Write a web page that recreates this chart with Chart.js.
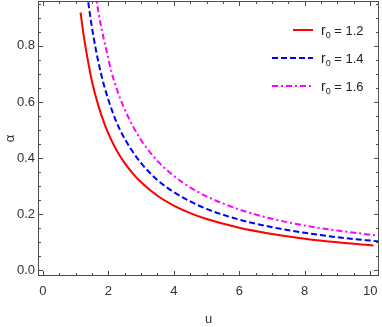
<!DOCTYPE html>
<html><head><meta charset="utf-8">
<script src="https://cdn.jsdelivr.net/npm/chart.js@4"></script>
<style>html,body{margin:0;padding:0;background:#fff;}#wrap{width:382px;height:327px;}</style>
</head><body><div id="wrap"><canvas id="c" width="382" height="327"></canvas></div>
<script>
const xTicks = [0, 2, 4, 6, 8, 10];
const yTicks = [0.0, 0.2, 0.4, 0.6, 0.8];
const seriesLabels = ['1.2', '1.4', '1.6'];
const uRed = [1.15, 1.25, 1.35, 1.5, 1.65, 1.8, 2, 2.25, 2.5, 2.75, 3, 3.5, 4, 4.5, 5, 6, 7, 8, 9, 10.1];
const aRed = [0.919, 0.834, 0.764, 0.673, 0.605, 0.549, 0.487, 0.428, 0.382, 0.345, 0.314, 0.266, 0.231, 0.204, 0.183, 0.152, 0.130, 0.113, 0.100, 0.089];
const uBlue = [1.35, 1.45, 1.55, 1.7, 1.85, 2, 2.25, 2.5, 2.75, 3, 3.5, 4, 4.5, 5, 6, 7, 8, 9, 10.3];
const aBlue = [0.988, 0.902, 0.830, 0.740, 0.667, 0.608, 0.528, 0.469, 0.422, 0.382, 0.322, 0.279, 0.246, 0.219, 0.181, 0.154, 0.134, 0.118, 0.103];
const uMag = [1.6, 1.7, 1.8, 1.95, 2.1, 2.3, 2.5, 2.75, 3, 3.5, 4, 4.5, 5, 6, 7, 8, 9, 10.3];
const aMag = [0.991, 0.919, 0.857, 0.779, 0.705, 0.632, 0.573, 0.514, 0.464, 0.390, 0.337, 0.296, 0.264, 0.217, 0.184, 0.160, 0.142, 0.123];

const pts = (xs, ys) => xs.map((x, i) => ({x, y: ys[i]}));
const colors = ['#ff0000', '#0000ff', '#ff00ff'];
const dashes = [[], [6, 3], [6, 3, 2, 3]];
const FONT = '"Liberation Sans", Arial, sans-serif';

const framePlugin = {
  id: 'frame',
  afterDraw(chart) {
    const {ctx, chartArea: a, scales: {x, y}} = chart;
    ctx.save();
    ctx.strokeStyle = '#4d4d4d';
    ctx.lineWidth = 1;
    ctx.setLineDash([]);
    const L = Math.round(a.left) + 0.5, R = Math.round(a.right) - 0.5;
    const T = Math.round(a.top) + 0.5, B = Math.round(a.bottom) - 0.5;
    ctx.strokeRect(L, T, R - L, B - T);
    ctx.beginPath();
    for (let i = 0; i <= 20; i++) {
      const v = i * 0.5;
      const px = Math.round(x.getPixelForValue(v)) + 0.5;
      const len = (i % 4 === 0) ? 4.5 : 2.5;
      ctx.moveTo(px, B); ctx.lineTo(px, B - len);
      ctx.moveTo(px, T); ctx.lineTo(px, T + len);
    }
    for (let i = 0; i <= 19; i++) {
      const v = i * 0.05;
      const py = Math.round(y.getPixelForValue(v)) + 0.5;
      const len = (i % 4 === 0) ? 4.5 : 2.5;
      ctx.moveTo(L, py); ctx.lineTo(L + len, py);
      ctx.moveTo(R, py); ctx.lineTo(R - len, py);
    }
    ctx.stroke();
    // legend
    const rows = [30, 58, 86];
    ctx.lineWidth = 2;
    rows.forEach((ry, i) => {
      ctx.strokeStyle = colors[i];
      ctx.setLineDash(dashes[i]);
      ctx.beginPath();
      ctx.moveTo(i === 0 ? 293 : 272, ry);
      ctx.lineTo(313, ry);
      ctx.stroke();
      ctx.setLineDash([]);
      ctx.fillStyle = '#222';
      ctx.textBaseline = 'alphabetic';
      ctx.textAlign = 'left';
      ctx.font = '14px ' + FONT;
      let tx = 321;
      ctx.fillText('r', tx, ry + 5);
      tx += ctx.measureText('r').width;
      ctx.font = '9px ' + FONT;
      ctx.fillText('0', tx, ry + 8);
      tx += ctx.measureText('0').width;
      ctx.font = '13px ' + FONT;
      ctx.fillText(' = ' + seriesLabels[i], tx, ry + 5);
    });
    ctx.restore();
  }
};

new Chart(document.getElementById('c'), {
  type: 'scatter',
  data: {
    datasets: [
      {label: 'r0 = 1.2', data: pts(uRed, aRed)},
      {label: 'r0 = 1.4', data: pts(uBlue, aBlue)},
      {label: 'r0 = 1.6', data: pts(uMag, aMag)}
    ].map((d, i) => Object.assign(d, {
      showLine: true, borderColor: colors[i], borderWidth: 2, borderDash: dashes[i],
      pointRadius: 0, fill: false, cubicInterpolationMode: 'monotone'
    }))
  },
  options: {
    responsive: false, animation: false, devicePixelRatio: 1,
    layout: {padding: {top: 1, right: 3, left: 0, bottom: 0}},
    plugins: {legend: {display: false}, tooltip: {enabled: false}},
    scales: {
      x: {
        type: 'linear', min: -0.15, max: 10.27,
        afterFit(s) { s.height = 51; s.paddingLeft = 0; s.paddingRight = 0; },
        afterBuildTicks(s) { s.ticks = xTicks.map(v => ({value: v})); },
        grid: {display: false, drawTicks: false}, border: {display: false},
        ticks: {padding: 8, color: '#333', font: {size: 13, family: FONT}, maxRotation: 0, callback: v => String(v)},
        title: {display: true, text: 'u', color: '#333', font: {size: 13, family: FONT}, padding: {top: 0, bottom: 0}}
      },
      y: {
        type: 'linear', min: -0.02, max: 0.96,
        afterFit(s) { s.width = 38; s.paddingTop = 0; s.paddingBottom = 0; },
        afterBuildTicks(s) { s.ticks = yTicks.map(v => ({value: v})); },
        grid: {display: false, drawTicks: false}, border: {display: false},
        ticks: {padding: 3, color: '#333', font: {size: 13, family: FONT}, callback: v => Number(v).toFixed(1)},
        title: {display: true, text: 'α', color: '#333', font: {size: 13, family: FONT}, padding: {top: 3, bottom: 0}}
      }
    }
  },
  plugins: [framePlugin]
});
</script></body></html>
